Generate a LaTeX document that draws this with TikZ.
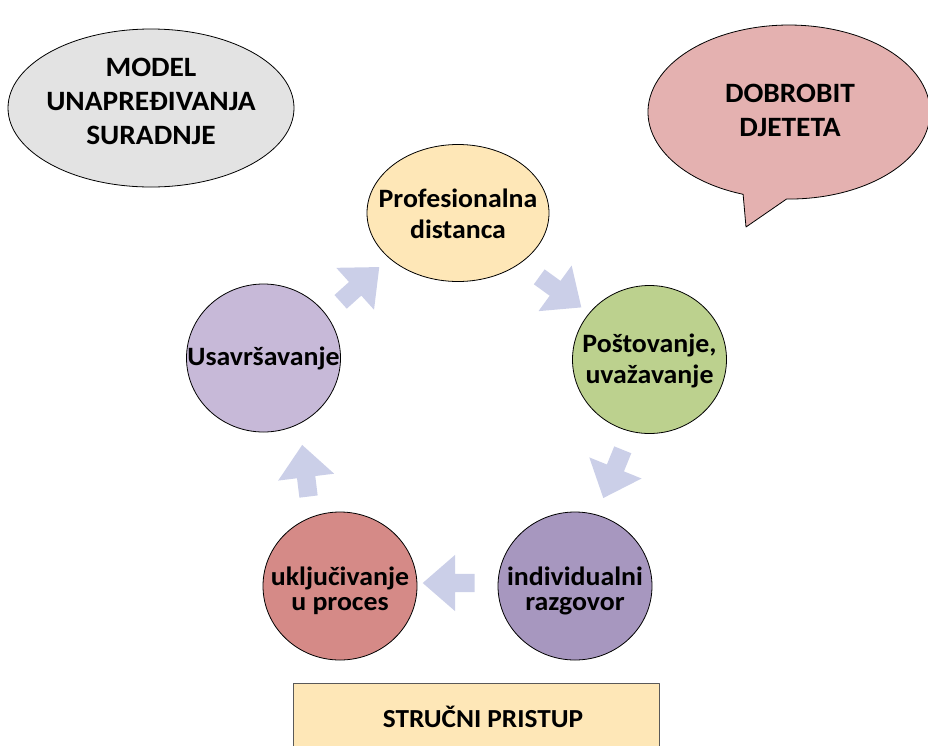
\documentclass[tikz,border=0pt]{standalone}
\usepackage{fontspec}
\setmainfont{Carlito}[FakeStretch=1.05]
\usepackage{tikz}
\usetikzlibrary{shapes.geometric}
\usetikzlibrary{shapes.arrows}

\definecolor{greybg}{HTML}{E3E3E3}
\definecolor{pinkbg}{HTML}{E4B1B0}
\definecolor{distcol}{HTML}{FEE7B7}
\definecolor{postcol}{HTML}{BCD18E}
\definecolor{usavcol}{HTML}{C7B9D8}
\definecolor{indcol}{HTML}{A797BF}
\definecolor{uklcol}{HTML}{D58A87}
\definecolor{flowcol}{HTML}{CBCFE8}
\definecolor{boxcol}{HTML}{FEE7B7}

\begin{document}
\begin{tikzpicture}[x=1pt,y=-1pt,line join=round,
    capslbl/.style={font=\bfseries\fontsize{28}{34}\selectfont,align=center,text=black},
    lbl/.style={font=\bfseries\fontsize{26.5}{30.5}\selectfont,align=center,text=black},
    tight/.style={font=\bfseries\fontsize{26.5}{25}\selectfont},
    stage/.style={ellipse,draw=black,line width=0.8pt,inner sep=0pt,
        minimum width=154pt,minimum height=148pt},
    flow/.style={single arrow,fill=flowcol,draw=none,inner sep=9pt,
        minimum height=52pt,single arrow head extend=19pt,
        single arrow tip angle=82}]
    \useasboundingbox (0,0) rectangle (928,745);

    % title and speech bubble
    \node[ellipse,draw=black,line width=0.8pt,fill=greybg,inner sep=0pt,
        minimum width=286pt,minimum height=158pt] (model) at (151,108) {};
    \node[capslbl] (modeltxt) at (151,101) {MODEL\\UNAPREĐIVANJA\\SURADNJE};
    \filldraw[fill=pinkbg,draw=black,line width=0.8pt] (746,227) -- (743.1,194.3)
        arc[start angle=109,end angle=451,x radius=141,y radius=87] -- cycle;
    \node[capslbl] (dobrobit) at (790,110) {DOBROBIT\\DJETETA};

    % cycle
    \node[stage,fill=distcol,minimum width=182pt,minimum height=137pt] (dist) at (458,213) {};
    \node[stage,fill=postcol] (post) at (649.5,359.5) {};
    \node[stage,fill=indcol] (ind) at (575,586) {};
    \node[stage,fill=uklcol] (ukl) at (340,586) {};
    \node[stage,fill=usavcol] (usav) at (263.5,358) {};

    \node[lbl] (disttxt) at (458,214) {Profesionalna\\distanca};
    \node[lbl] (posttxt) at (649.5,361) {Poštovanje,\\uvažavanje};
    \node[lbl,tight] (indtxt) at (575,591) {individualni\\razgovor};
    \node[lbl,tight] (ukltxt) at (340,591) {uključivanje\\u proces};
    \node[lbl] (usavtxt) at (usav) {Usavršavanje};

    \node[flow,rotate=42] (f1) at (356,288) {};
    \node[flow,rotate=-36] (f2) at (556,289) {};
    \node[flow,rotate=-112] (f3) at (615,469) {};
    \node[flow,rotate=180] (f4) at (454,583) {};
    \node[flow,rotate=97] (f5) at (306,476) {};

    % bottom box
    \filldraw[fill=boxcol,draw=black!65,line width=0.8pt] (293,683) rectangle (659,770);
    \node[capslbl,font=\bfseries\fontsize{26}{30}\selectfont] (pristup) at (483,717) {STRUČNI PRISTUP};
\end{tikzpicture}
\end{document}
